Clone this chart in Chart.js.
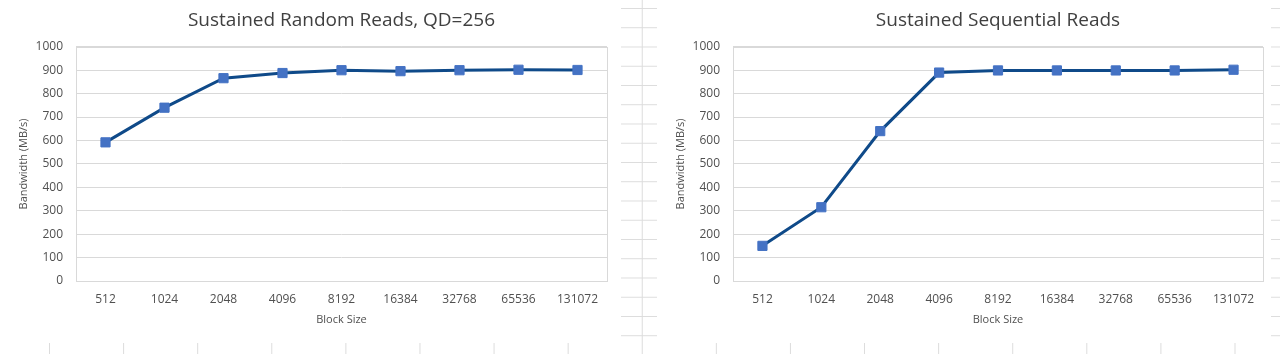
<!DOCTYPE html>
<html>
<head>
<meta charset="utf-8">
<script src="https://cdn.jsdelivr.net/npm/chart.js@4/dist/chart.umd.min.js"></script>
<style>
  body {
    margin: 0;
    width: 1280px;
    height: 354px;
    overflow: hidden;
    position: relative;
    background-color: #fff;
    background-image:
      linear-gradient(to right, #dcdcdc 1px, transparent 1px),
      linear-gradient(to bottom, #dcdcdc 1px, transparent 1px);
    background-size: 74.1px 19.25px;
    background-position: 49px 8px;
  }
  .box { position: absolute; top: 0; height: 343px; background: #fff; }
  #leftBox { left: 0; width: 621px; }
  #rightBox { left: 657px; width: 614px; }
</style>
</head>
<body>
<div class="box" id="leftBox"><canvas id="randomChart" width="621" height="343"></canvas></div>
<div class="box" id="rightBox"><canvas id="seqChart" width="614" height="343"></canvas></div>
<script>
const blockSizes = ['512', '1024', '2048', '4096', '8192', '16384', '32768', '65536', '131072'];
const randomReads = [592, 740, 866, 888, 900, 896, 900, 902, 901];
const sequentialReads = [150, 315, 640, 890, 899, 899, 899, 899, 902];
const yTicks = { min: 0, max: 1000, step: 100 };

const textColor = '#505050';
const fontFamily = "'Open Sans', sans-serif";

// thin grey frame round the plot area, like Excel's
const plotBorder = {
    id: 'plotBorder',
    beforeDatasetsDraw(chart) {
        const { ctx, chartArea: a } = chart;
        ctx.save();
        ctx.strokeStyle = '#d9d9d9';
        ctx.lineWidth = 1;
        ctx.strokeRect(Math.round(a.left) + 0.5, Math.round(a.top) + 0.5, Math.round(a.width), Math.round(a.height));
        ctx.restore();
    }
};

const makeChart = (id, title, values, rightPad) => {
    return new Chart(document.getElementById(id), {
        type: 'line',
        data: {
            labels: blockSizes,
            datasets: [{
                data: values,
                borderColor: '#0f4a89',
                borderWidth: 3,
                pointStyle: 'rect',
                pointRadius: 6.5,
                pointBackgroundColor: '#4472c4',
                pointBorderColor: '#4472c4',
                pointBorderWidth: 1,
                tension: 0,
            }],
        },
        options: {
            responsive: false,
            animation: false,
            layout: { padding: { left: 0, right: rightPad, top: 0, bottom: 0 } },
            plugins: {
                legend: { display: false },
                tooltip: { enabled: false },
                title: {
                    display: true,
                    text: title,
                    fullSize: false,
                    color: '#404040',
                    font: { family: fontFamily, size: 19, weight: 'normal', lineHeight: 1.2 },
                    padding: { top: 9, bottom: 15 },
                },
            },
            scales: {
                x: {
                    offset: true,
                    grid: { display: false },
                    border: { display: false },
                    ticks: { color: textColor, padding: 3, font: { family: fontFamily, size: 12 }, maxRotation: 0, autoSkip: false },
                    title: {
                        display: true,
                        text: 'Block Size',
                        color: textColor,
                        font: { family: fontFamily, size: 11 },
                        padding: { top: 0, bottom: 17 },
                    },
                    afterFit: scale => { scale.height = 62; },
                },
                y: {
                    min: yTicks.min,
                    max: yTicks.max,
                    grid: { color: '#d9d9d9', drawTicks: false },
                    border: { display: false },
                    ticks: {
                        stepSize: yTicks.step,
                        color: textColor,
                        padding: 13,
                        font: { family: fontFamily, size: 12 },
                        callback: value => String(value),
                    },
                    title: {
                        display: true,
                        text: 'Bandwidth (MB/s)',
                        color: textColor,
                        font: { family: fontFamily, size: 11 },
                        padding: { top: 17, bottom: 0 },
                    },
                    afterFit: scale => { scale.width = 76; },
                },
            },
        },
        plugins: [plotBorder],
    });
};

makeChart('randomChart', 'Sustained Random Reads, QD=256', randomReads, 14);
makeChart('seqChart', 'Sustained Sequential Reads', sequentialReads, 8);
</script>
</body>
</html>
